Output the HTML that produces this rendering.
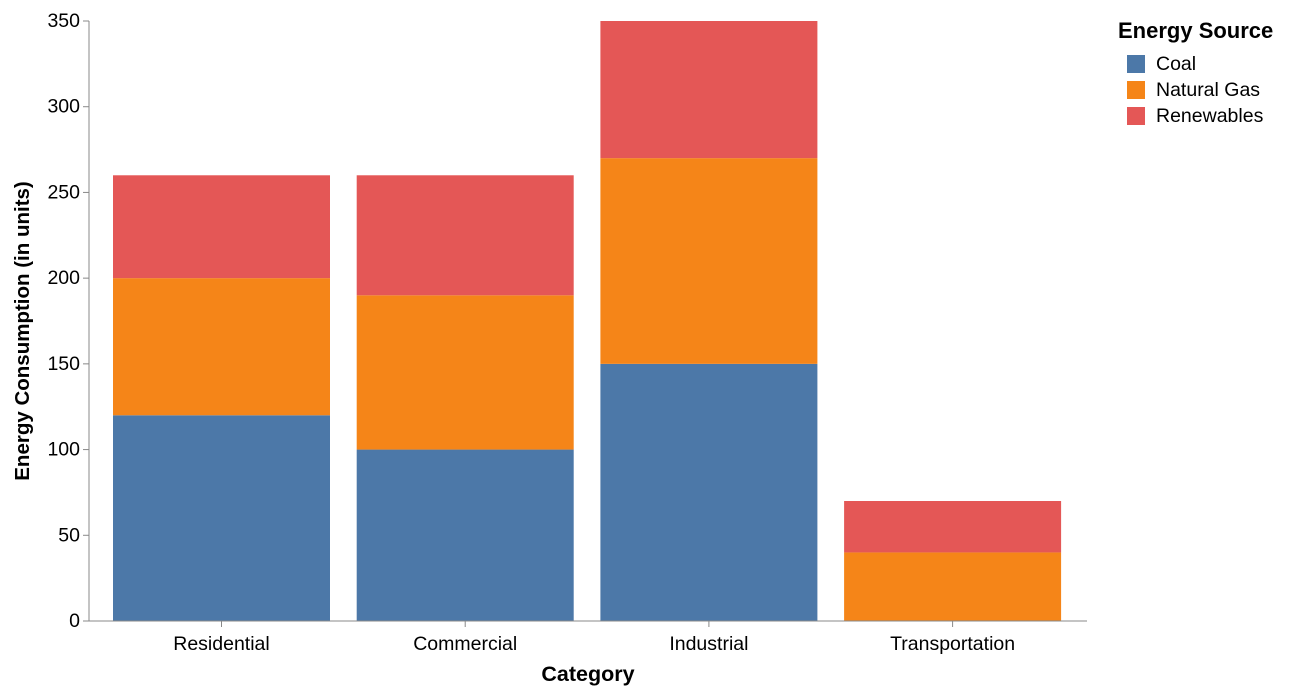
<!DOCTYPE html>
<html><head><meta charset="utf-8"><style>
body{margin:0;background:#fff;}
svg{font-family:"Liberation Sans",Arial,sans-serif;}
</style></head><body>
<svg id="chart" width="1290" height="694"></svg>
<script>
const categories=["Residential","Commercial","Industrial","Transportation"];
const coal=[120,100,150,0];
const naturalGas=[80,90,120,40];
const renewables=[60,70,80,30];
const seriesNames=["Coal","Natural Gas","Renewables"];
const yTicks=[0,50,100,150,200,250,300,350];

const colors=["#4c78a8","#f58518","#e45756"];
const svg=document.getElementById('chart');
const NS="http://www.w3.org/2000/svg";
const x0=89,x1=1087,y0=621,y1=21,yMax=350;
const step=243.7,bw=217,outer=24;
function y(v){return y0-(v/yMax)*(y0-y1);}
function xb(i){return x0+outer+i*step;}
function mk(tag,attrs,txt){const e=document.createElementNS(NS,tag);for(const k in attrs)e.setAttribute(k,attrs[k]);if(txt!==undefined)e.textContent=txt;svg.appendChild(e);return e;}

yTicks.forEach(t=>{
  const l=mk('line',{x1:x0-6,x2:x0,y1:y(t),y2:y(t),stroke:'#888'});
  
  
  const tx=mk('text',{x:x0-9,y:y(t)+6,'text-anchor':'end','font-size':19.5,fill:'#000'},t);
  
  
});
const series=[coal,naturalGas,renewables];
categories.forEach((c,i)=>{
  let base=0;
  series.forEach((s,j)=>{
    const v=s[i];
    if(v>0){
      const r=mk('rect',{x:xb(i),y:y(base+v),width:bw,height:y(base)-y(base+v),fill:colors[j]});
      
      
    }
    base+=v;
  });
  const tk=mk('line',{x1:xb(i)+bw/2,x2:xb(i)+bw/2,y1:y0,y2:y0+6,stroke:'#888'});
  
  
  const tl=mk('text',{x:xb(i)+bw/2,y:y0+29,'text-anchor':'middle','font-size':19.5},c);
  
  
});
const ya=mk('line',{x1:x0,x2:x0,y1:y1,y2:y0,stroke:'#888'});


const xa=mk('line',{x1:x0,x2:x1,y1:y0,y2:y0,stroke:'#888'});


const xt=mk('text',{x:(x0+x1)/2,y:681,'text-anchor':'middle','font-size':21.5,'font-weight':'bold'},'Category');


const yt=mk('text',{x:0,y:0,'text-anchor':'middle','font-size':20.5,'font-weight':'bold',transform:'translate(29,331) rotate(-90)'},'Energy Consumption (in units)');


const lt=mk('text',{x:1118,y:38,'font-size':22,'font-weight':'bold'},'Energy Source');


seriesNames.forEach((n,j)=>{
  const cy=64+j*26;
  const sq=mk('rect',{x:1127,y:cy-9,width:18,height:18,fill:colors[j]});
  
  
  const t=mk('text',{x:1156,y:cy+6,'font-size':19.5},n);
  
  
});
</script>
</body></html>
